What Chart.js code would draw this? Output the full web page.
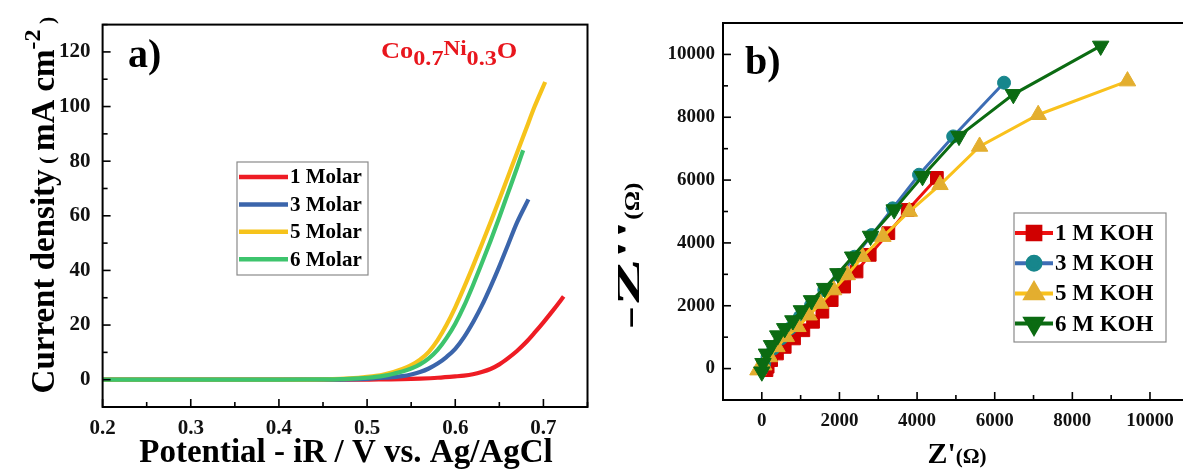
<!DOCTYPE html>
<html>
<head>
<meta charset="utf-8">
<script src="https://cdn.jsdelivr.net/npm/chart.js@4.4.0/dist/chart.umd.min.js"></script>
<style>
    html, body { margin: 0; padding: 0; background: #fff; overflow: hidden; }
    #wrap { position: relative; width: 1183px; height: 469px; overflow: hidden; }
    #lsv { position: absolute; left: 0; top: 0; }
    #eis { position: absolute; left: 600px; top: 0; }
</style>
</head>
<body>
<div id="wrap">
    <canvas id="lsv" width="600" height="469"></canvas>
    <canvas id="eis" width="600" height="469"></canvas>
</div>
<script>
const serif = "'Liberation Serif', 'Times New Roman', serif"

// ---- panel a) polarisation curves ----
const lsvLabels = ['1 Molar', '3 Molar', '5 Molar', '6 Molar']
const lsvColors = ['#ee1c24', '#3b65ab', '#f6c31b', '#3dc46d']

const potential1M = [0.2, 0.3, 0.4, 0.5, 0.52, 0.54, 0.56, 0.58, 0.6, 0.61, 0.62, 0.63, 0.64, 0.65, 0.66, 0.67, 0.68, 0.69, 0.7, 0.71, 0.72, 0.723]
const current1M = [0, 0, 0, 0, 0.1, 0.2, 0.4, 0.7, 1.2, 1.5, 2.0, 2.8, 3.9, 5.6, 7.9, 10.5, 13.6, 17.2, 21, 25, 29.2, 30.5]

const potential3M = [0.2, 0.3, 0.4, 0.45, 0.48, 0.5, 0.52, 0.54, 0.55, 0.56, 0.57, 0.58, 0.59, 0.6, 0.61, 0.621, 0.63, 0.64, 0.65, 0.66, 0.67, 0.683]
const current3M = [0, 0, 0, 0, 0.1, 0.3, 0.7, 1.3, 1.9, 2.8, 4.1, 5.9, 8.3, 11.3, 15.6, 21.5, 27, 34, 41.5, 49.5, 57.5, 66]

const potential5M = [0.2, 0.3, 0.4, 0.45, 0.47, 0.49, 0.5, 0.51, 0.52, 0.53, 0.54, 0.55, 0.56, 0.57, 0.58, 0.59, 0.6, 0.61, 0.62, 0.63, 0.64, 0.65, 0.66, 0.67, 0.68, 0.69, 0.702]
const current5M = [0, 0, 0, 0.1, 0.3, 0.7, 1.0, 1.4, 2.0, 2.8, 3.9, 5.3, 7.3, 10.2, 14.5, 20, 26.5, 33.8, 41.5, 49.5, 57.6, 66, 74.5, 83, 91.5, 100, 109]

const potential6M = [0.2, 0.3, 0.4, 0.45, 0.47, 0.49, 0.5, 0.51, 0.52, 0.53, 0.54, 0.55, 0.56, 0.57, 0.58, 0.59, 0.6, 0.61, 0.62, 0.63, 0.64, 0.65, 0.66, 0.67, 0.677]
const current6M = [0, 0, 0, 0.1, 0.2, 0.5, 0.7, 1.0, 1.5, 2.2, 3.0, 4.1, 5.6, 7.8, 10.9, 15.2, 20.5, 27, 34.5, 42.5, 50.8, 59.5, 68.5, 77.5, 84]

// ---- panel b) Nyquist plots ----
const eisLabels = ['1 M KOH', '3 M KOH', '5 M KOH', '6 M KOH']
const eisLineColors = ['#ee1111', '#3d6db5', '#f9c11c', '#0b6b12']
const eisPointColors = ['#d00000', '#17868c', '#e3ae2f', '#0b6b12']

const zReal1M = [120, 150, 240, 390, 590, 830, 1070, 1320, 1560, 1800, 2120, 2440, 2780, 3260, 3760, 4510]
const zImag1M = [-50, 60, 270, 480, 690, 960, 1220, 1490, 1810, 2180, 2610, 3090, 3620, 4310, 5050, 6070]

const zReal3M = [0, 60, 150, 300, 500, 730, 980, 1270, 1610, 2000, 2390, 2830, 3370, 4050, 4930, 6240]
const zImag3M = [0, 160, 380, 640, 960, 1280, 1650, 2020, 2500, 2980, 3560, 4250, 5100, 6170, 7390, 9100]

const zReal5M = [-100, 50, 200, 390, 630, 930, 1220, 1510, 1850, 2200, 2590, 3120, 3800, 4590, 5610, 7120, 9420]
const zImag5M = [-50, 110, 370, 690, 1010, 1330, 1700, 2070, 2500, 2980, 3560, 4200, 5000, 5850, 7070, 8080, 9150]

const zReal6M = [0, 30, 120, 250, 410, 590, 800, 1020, 1280, 1620, 1960, 2340, 2800, 3410, 4140, 5080, 6480, 8730]
const zImag6M = [-100, 170, 470, 740, 1050, 1280, 1530, 1850, 2170, 2560, 3030, 3560, 4220, 5060, 6120, 7400, 8730, 10270]

const eisStyles = [
    { pointStyle: 'rect', radius: 9, rotation: 0 },
    { pointStyle: 'circle', radius: 6.5, rotation: 0 },
    { pointStyle: 'triangle', radius: 9.5, rotation: 0 },
    { pointStyle: 'triangle', radius: 9.5, rotation: 180 }
]

function pairs(xs, ys) {
    return xs.map((x, i) => ({ x: x, y: ys[i] }))
}

// border box plus inward tick marks (major long, minor short)
function framePlugin(isMajorX, isMajorY) {
    return {
        id: 'frame',
        afterDraw(chart) {
            let ctx = chart.ctx
            let a = chart.chartArea
            ctx.save()
            ctx.strokeStyle = '#000'
            ctx.lineWidth = 1.6
            chart.scales.x.ticks.forEach(t => {
                let px = chart.scales.x.getPixelForValue(t.value)
                let len = isMajorX(t.value) ? 8 : 5
                ctx.beginPath()
                ctx.moveTo(px, a.bottom)
                ctx.lineTo(px, a.bottom - len)
                ctx.stroke()
            })
            chart.scales.y.ticks.forEach(t => {
                let py = chart.scales.y.getPixelForValue(t.value)
                let len = isMajorY(t.value) ? 8 : 5
                ctx.beginPath()
                ctx.moveTo(a.left, py)
                ctx.lineTo(a.left + len, py)
                ctx.stroke()
            })
            ctx.lineWidth = 2
            ctx.strokeRect(a.left, a.top, a.right - a.left, a.bottom - a.top)
            ctx.restore()
        }
    }
}

// legend box drawn inside the plot
function legendPlugin(box) {
    return {
        id: 'boxLegend',
        afterDraw(chart) {
            let ctx = chart.ctx
            ctx.save()
            ctx.fillStyle = '#fff'
            ctx.fillRect(box.x, box.y, box.w, box.h)
            ctx.strokeStyle = '#8a8a8a'
            ctx.lineWidth = 1.2
            ctx.strokeRect(box.x, box.y, box.w, box.h)
            chart.data.datasets.forEach((ds, i) => {
                let cy = box.y + box.first + i * box.step
                ctx.strokeStyle = ds.borderColor
                ctx.lineWidth = box.lineWidth
                ctx.beginPath()
                ctx.moveTo(box.x + box.lineFrom, cy)
                ctx.lineTo(box.x + box.lineTo, cy)
                ctx.stroke()
                if (box.markers) {
                    let st = box.markers[i]
                    ctx.fillStyle = ds.pointBackgroundColor
                    ctx.strokeStyle = ds.pointBackgroundColor
                    Chart.helpers.drawPoint(ctx, { pointStyle: st.pointStyle, rotation: st.rotation, radius: st.radius, borderWidth: 1 },
                        box.x + (box.lineFrom + box.lineTo) / 2, cy)
                }
                ctx.fillStyle = '#000'
                ctx.font = 'bold ' + box.fontSize + 'px ' + serif
                ctx.textBaseline = 'middle'
                ctx.fillText(ds.label, box.x + box.textX, cy + 1)
            })
            ctx.restore()
        }
    }
}

// free text with mixed sizes (sub/superscripts), optional rotation
function notesPlugin(items) {
    return {
        id: 'notes',
        afterDraw(chart) {
            let ctx = chart.ctx
            items.forEach(item => {
                ctx.save()
                ctx.translate(item.x, item.y)
                ctx.rotate(item.angle || 0)
                ctx.fillStyle = item.color || '#000'
                ctx.textBaseline = 'alphabetic'
                let total = 0
                item.runs.forEach(r => {
                    ctx.font = 'bold ' + r.size + 'px ' + serif
                    total += ctx.measureText(r.text).width * (r.sx || 1)
                })
                let cx = item.align === 'center' ? -total / 2 : 0
                item.runs.forEach(r => {
                    ctx.font = 'bold ' + r.size + 'px ' + serif
                    let w = ctx.measureText(r.text).width * (r.sx || 1)
                    ctx.save()
                    ctx.translate(cx, r.dy || 0)
                    ctx.scale(r.sx || 1, 1)
                    ctx.fillText(r.text, 0, 0)
                    ctx.restore()
                    cx += w
                })
                ctx.restore()
            })
        }
    }
}

function tickFont(size) {
    return { family: serif, size: size, weight: 'bold' }
}

// ---------- chart a ----------
const lsvSeries = [
    [potential1M, current1M],
    [potential3M, current3M],
    [potential5M, current5M],
    [potential6M, current6M]
]

new Chart(document.getElementById('lsv'), {
    type: 'scatter',
    data: {
        datasets: lsvSeries.map((s, i) => ({
            label: lsvLabels[i],
            data: pairs(s[0], s[1]),
            showLine: true,
            borderColor: lsvColors[i],
            backgroundColor: lsvColors[i],
            borderWidth: 4.2,
            pointRadius: 0,
            cubicInterpolationMode: 'monotone',
            order: 3 - i
        }))
    },
    options: {
        responsive: false,
        animation: false,
        layout: { padding: { left: 0, right: 12.5, top: 15, bottom: 0 } },
        plugins: { legend: { display: false }, tooltip: { enabled: false } },
        scales: {
            x: {
                type: 'linear',
                min: 0.2,
                max: 0.75,
                grid: { display: false, drawTicks: false },
                border: { display: false },
                ticks: {
                    stepSize: 0.05,
                    autoSkip: false,
                    maxRotation: 0,
                    padding: 9,
                    color: '#111',
                    font: tickFont(21),
                    callback: v => Math.abs(v * 10 - Math.round(v * 10)) < 1e-6 && v < 0.74 ? v.toFixed(1) : ''
                },
                afterFit: s => { s.height = 62 }
            },
            y: {
                type: 'linear',
                min: -10,
                max: 130,
                grid: { display: false, drawTicks: false },
                border: { display: false },
                ticks: {
                    stepSize: 10,
                    autoSkip: false,
                    padding: 12,
                    color: '#111',
                    font: tickFont(21),
                    callback: v => v >= 0 && v <= 120 && v % 20 === 0 ? String(v) : ''
                },
                afterFit: s => { s.width = 102.6 }
            }
        }
    },
    plugins: [
        framePlugin(v => Math.abs(v * 10 - Math.round(v * 10)) < 1e-6, v => v % 20 === 0),
        legendPlugin({ x: 237, y: 162, w: 131, h: 113, first: 15, step: 27.4, lineFrom: 2, lineTo: 51,
            lineWidth: 4.5, textX: 53, fontSize: 21 }),
        notesPlugin([
            { x: 128, y: 67, runs: [{ text: 'a)', size: 40 }] },
            { x: 381, y: 58, color: '#e8161d', runs: [
                { text: 'Co', size: 24, sx: 1.1 },
                { text: '0.7', size: 22, dy: 7, sx: 1.1 },
                { text: 'Ni', size: 21, dy: -3, sx: 1.1 },
                { text: '0.3', size: 22, dy: 7, sx: 1.1 },
                { text: 'O', size: 24, sx: 1.1 }
            ] },
            { x: 346, y: 462, align: 'center', runs: [{ text: 'Potential - iR / V vs. Ag/AgCl', size: 33 }] },
            { x: 54, y: 205, angle: -Math.PI / 2, align: 'center', runs: [
                { text: 'Current density', size: 33 },
                { text: ' ( ', size: 22 },
                { text: 'mA cm', size: 33 },
                { text: '-2', size: 24, dy: -14 },
                { text: ' )', size: 22 }
            ] }
        ])
    ]
})

// ---------- chart b ----------
const eisSeries = [
    [zReal1M, zImag1M],
    [zReal3M, zImag3M],
    [zReal5M, zImag5M],
    [zReal6M, zImag6M]
]

new Chart(document.getElementById('eis'), {
    type: 'scatter',
    data: {
        datasets: eisSeries.map((s, i) => ({
            label: eisLabels[i],
            data: pairs(s[0], s[1]),
            showLine: true,
            borderColor: eisLineColors[i],
            borderWidth: 3,
            pointStyle: eisStyles[i].pointStyle,
            pointRotation: eisStyles[i].rotation,
            pointRadius: eisStyles[i].radius,
            pointBackgroundColor: eisPointColors[i],
            pointBorderColor: eisPointColors[i],
            pointBorderWidth: 1,
            order: 3 - i
        }))
    },
    options: {
        responsive: false,
        animation: false,
        layout: { padding: { left: 0, right: 11.2, top: 23, bottom: 0 } },
        plugins: { legend: { display: false }, tooltip: { enabled: false } },
        scales: {
            x: {
                type: 'linear',
                min: -1000,
                max: 11000,
                grid: { display: false, drawTicks: false },
                border: { display: false },
                ticks: {
                    stepSize: 1000,
                    autoSkip: false,
                    maxRotation: 0,
                    padding: 10,
                    color: '#111',
                    font: tickFont(19),
                    callback: v => v >= 0 && v <= 10000 && v % 2000 === 0 ? String(v) : ''
                },
                afterFit: s => { s.height = 69 }
            },
            y: {
                type: 'linear',
                min: -1000,
                max: 11000,
                grid: { display: false, drawTicks: false },
                border: { display: false },
                ticks: {
                    stepSize: 1000,
                    autoSkip: false,
                    padding: 8,
                    color: '#111',
                    font: tickFont(19),
                    callback: v => v >= 0 && v <= 10000 && v % 2000 === 0 ? String(v) : ''
                },
                afterFit: s => { s.width = 123 }
            }
        }
    },
    plugins: [
        framePlugin(v => v % 2000 === 0, v => v % 2000 === 0),
        legendPlugin({ x: 414, y: 213, w: 152, h: 129, first: 20, step: 30.2, lineFrom: 1, lineTo: 39,
            lineWidth: 4, textX: 41, fontSize: 23, markers: eisStyles }),
        notesPlugin([
            { x: 145, y: 74, runs: [{ text: 'b)', size: 40 }] },
            { x: 357, y: 463, align: 'center', runs: [
                { text: "Z'", size: 30 },
                { text: '(\u03a9)', size: 21 }
            ] },
            { x: 39, y: 256, angle: -Math.PI / 2, align: 'center', runs: [
                { text: "-Z''", size: 32, sx: 2.2 },
                { text: '(\u03a9)', size: 22, sx: 1.15 }
            ] }
        ])
    ]
})
</script>
</body>
</html>
